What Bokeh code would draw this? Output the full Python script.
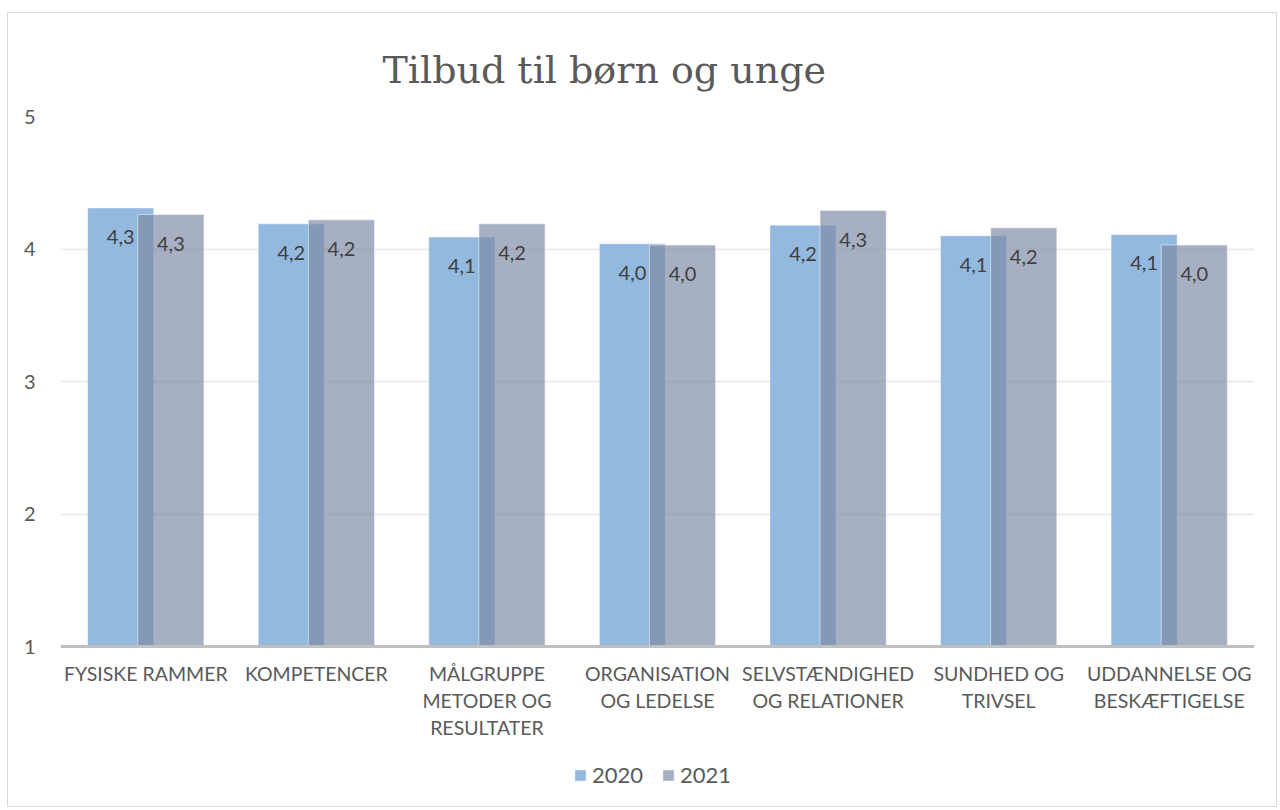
from bokeh.plotting import figure
from bokeh.models import (ColumnDataSource, FactorRange, Range1d, Legend, LegendItem,
                          FixedTicker, Span)
from bokeh.transform import dodge
from bokeh.core.properties import value
from bokeh.embed import file_html
from bokeh.resources import INLINE

title_text = "Tilbud til børn og unge"
categories = ["FYSISKE RAMMER", "KOMPETENCER", "MÅLGRUPPE METODER OG RESULTATER",
              "ORGANISATION OG LEDELSE", "SELVSTÆNDIGHED OG RELATIONER",
              "SUNDHED OG TRIVSEL", "UDDANNELSE OG BESKÆFTIGELSE"]
tick_label_lines = [["FYSISKE RAMMER"], ["KOMPETENCER"], ["MÅLGRUPPE", "METODER OG", "RESULTATER"],
                    ["ORGANISATION", "OG LEDELSE"], ["SELVSTÆNDIGHED", "OG RELATIONER"],
                    ["SUNDHED OG", "TRIVSEL"], ["UDDANNELSE OG", "BESKÆFTIGELSE"]]
series_names = ["2020", "2021"]
values_2020 = [4.31, 4.19, 4.09, 4.04, 4.18, 4.10, 4.11]
values_2021 = [4.26, 4.22, 4.19, 4.03, 4.29, 4.16, 4.03]
y_ticks = [1, 2, 3, 4, 5]
y_min, y_max = 1, 5

def fmt(v):
    return f"{v:.1f}".replace(".", ",")

src = ColumnDataSource(dict(
    cat=categories,
    v20=values_2020, v21=values_2021,
    l20=[fmt(v) for v in values_2020],
    l21=[fmt(v) for v in values_2021],
))

# layout: value axis spans 530 px for 4 units; frame extends 160 px below the baseline
FRAME_W, FRAME_H = 1194, 690
px_per_unit = 530 / (y_max - y_min)
below_px = FRAME_H - 530
p = figure(x_range=FactorRange(*categories, range_padding=0),
           y_range=Range1d(y_min - below_px / px_per_unit, y_max),
           frame_width=FRAME_W, frame_height=FRAME_H, output_backend="svg", toolbar_location=None,
           x_axis_location=None,
           min_border_left=52, min_border_right=22, min_border_top=103, min_border_bottom=0)
p.styles = {"border": "1px solid #d9d9d9", "margin-left": "7px", "margin-top": "12px"}
p.outline_line_color = None
p.background_fill_color = "white"
p.border_fill_color = "white"

c20 = "#93b9de"
c21 = "#7d8ba7"
off = 0.147
bw = 0.388
r20 = p.vbar(x=dodge("cat", -off, range=p.x_range), top="v20", bottom=y_min, width=bw, source=src,
             fill_color=c20, line_color="white", line_alpha=0.5, line_width=1)
r21 = p.vbar(x=dodge("cat", off, range=p.x_range), top="v21", bottom=y_min, width=bw, source=src,
             fill_color=c21, fill_alpha=0.68, line_color="white", line_alpha=0.5, line_width=1)

for col, lab, dx in (("v20", "l20", -off), ("v21", "l21", off)):
    p.text(x=dodge("cat", dx, range=p.x_range), y=col, text=lab, source=src,
           text_align="center", text_baseline="middle", y_offset=29,
           text_font=value("Lato"), text_font_size="20px", text_color="#404040")

# category axis line at the baseline
p.add_layout(Span(location=y_min, dimension="width", line_color="#bfbfbf", line_width=3))

# category labels, one text row per wrapped line
for k in range(3):
    xs, ts = [], []
    for c, lines in zip(categories, tick_label_lines):
        if k < len(lines):
            xs.append(c)
            ts.append(lines[k])
    lsrc = ColumnDataSource(dict(x=xs, y=[y_min] * len(xs), t=ts))
    p.text(x="x", y="y", text="t", source=lsrc, text_align="center", text_baseline="middle",
           y_offset=27 + 27 * k, text_font=value("Lato"), text_font_size="19.5px",
           text_color="#595959")

# title
p.title.text = title_text
p.title.text_font = "DejaVu Serif"
p.title.text_font_size = "38px"
p.title.text_font_style = "normal"
p.title.text_color = "#595959"
p.title.align = "left"
p.title.offset = 322
p.title.standoff = 50

p.yaxis.ticker = FixedTicker(ticks=y_ticks)
p.yaxis.axis_line_color = None
p.yaxis.major_tick_line_color = None
p.yaxis.minor_tick_line_color = None
p.yaxis.major_tick_out = 0
p.yaxis.major_label_text_font = "Lato"
p.yaxis.major_label_text_font_size = "20px"
p.yaxis.major_label_text_color = "#595959"
p.yaxis.major_label_standoff = 25

for g in p.grid:
    if g.dimension == 0:
        g.grid_line_color = None
    else:
        g.grid_line_color = "#ececec"
        g.grid_line_width = 2

legend = Legend(items=[LegendItem(label=series_names[0], renderers=[r20]),
                       LegendItem(label=series_names[1], renderers=[r21])],
                location=(513, 18), orientation="horizontal",
                glyph_width=14, glyph_height=14, label_height=22,
                label_text_font="Lato", label_text_font_size="22px", label_text_color="#595959",
                label_standoff=5, spacing=18, padding=0, margin=0,
                border_line_color=None, background_fill_alpha=0)
p.add_layout(legend, "center")

open("out.html", "w").write(file_html(p, INLINE))
